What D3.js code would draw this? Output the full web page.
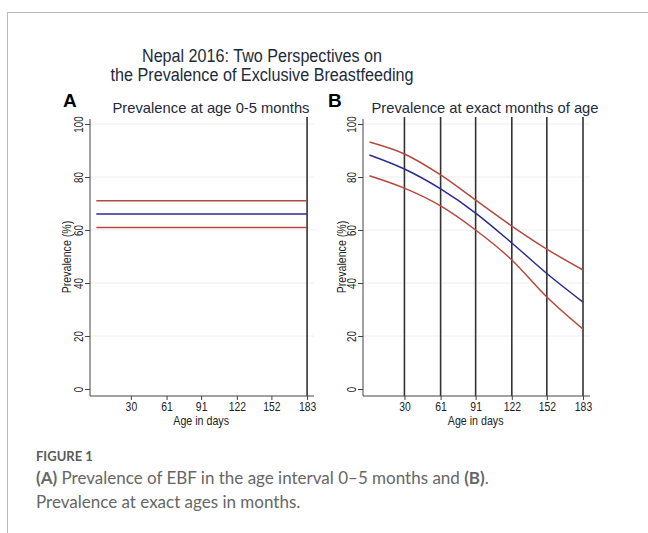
<!DOCTYPE html>
<meta charset="utf-8">
<style>
  body { margin: 0; background: #fff; }
  svg text { font-family: "Liberation Sans", Arial, sans-serif; }
  .axis path, .axis line { stroke: #444; }
  .cap { font-family: Lato, "Open Sans", sans-serif !important; fill: #666; }
</style>
<body>
<div id="chart"></div>
<script src="https://cdnjs.cloudflare.com/ajax/libs/d3/7.8.5/d3.min.js"></script>
<script>
  // tick values on the age axis (days)
  var dayTicks = [30, 61, 91, 122, 152, 183];
  var yTicks = [0, 20, 40, 60, 80, 100];

  // panel A: prevalence over 0-5 months (flat estimate + CI)
  var intervalDays = [0, 183];
  var intervalEst = 66.0, intervalLo = 60.9, intervalHi = 71.0;

  // panel B: prevalence at exact ages
  var exactDays = [0, 30, 61, 91, 122, 152, 183];
  var exactEst = [88.3, 83.0, 75.5, 66.4, 55.1, 43.6, 32.8];
  var exactHi  = [93.2, 88.7, 80.8, 71.3, 61.5, 52.8, 44.9];
  var exactLo  = [80.5, 75.8, 69.1, 60.0, 48.7, 34.7, 22.6];

  var W = 648, H = 533;
  var red = "#b5483f", blue = "#2a2a8f";

  // the stata text in the figure is narrow, so squeeze glyphs horizontally
  function squeeze(sel, f) {
    sel.each(function () {
      var L = this.getComputedTextLength();
      d3.select(this).attr("textLength", L * f).attr("lengthAdjust", "spacingAndGlyphs");
    });
  }

  var svg = d3.select("#chart").append("svg")
    .attr("width", W).attr("height", H);

  // figure frame
  svg.append("line").attr("x1", 8).attr("x2", W).attr("y1", 12.5).attr("y2", 12.5)
    .style("stroke", "#bbb").style("stroke-width", 1);
  svg.append("line").attr("x1", 7.5).attr("x2", 7.5).attr("y1", 12).attr("y2", H)
    .style("stroke", "#bbb").style("stroke-width", 1);

  // title
  svg.append("text").attr("x", 262).attr("y", 62).attr("text-anchor", "middle")
    .attr("textLength", 240).attr("lengthAdjust", "spacingAndGlyphs")
    .style("font-size", "18px").style("fill", "#1e2a3a")
    .text("Nepal 2016: Two Perspectives on");
  svg.append("text").attr("x", 262).attr("y", 81).attr("text-anchor", "middle")
    .attr("textLength", 303).attr("lengthAdjust", "spacingAndGlyphs")
    .style("font-size", "18px").style("fill", "#1e2a3a")
    .text("the Prevalence of Exclusive Breastfeeding");

  var y = d3.scaleLinear().domain([0, 100]).range([389, 124]);

  function panel(opts) {
    var x = d3.scaleLinear().domain([-5.5, 189]).range([opts.left, opts.right]);
    var g = svg.append("g");

    g.append("text").attr("x", opts.letterX).attr("y", 107)
      .style("font-size", "19px").style("font-weight", "bold").text(opts.letter);
    g.append("text").attr("x", opts.subX).attr("y", 113).attr("text-anchor", "middle")
      .attr("textLength", opts.subW).attr("lengthAdjust", "spacingAndGlyphs")
      .style("font-size", "15px").style("fill", "#1e2a3a").text(opts.sub);

    // grid
    g.selectAll(".grid").data(yTicks.filter(function (d) { return d > 0; })).enter()
      .append("line")
      .attr("x1", opts.left).attr("x2", opts.right)
      .attr("y1", function (d) { return y(d); }).attr("y2", function (d) { return y(d); })
      .style("stroke", "#eee").style("stroke-width", 1);

    // vertical reference lines
    g.selectAll(".vline").data(opts.vlines).enter()
      .append("line")
      .attr("x1", function (d) { return x(d); }).attr("x2", function (d) { return x(d); })
      .attr("y1", 117).attr("y2", 396)
      .style("stroke", "#333").style("stroke-width", 1.6);

    var yAxis = g.append("g").attr("class", "axis")
      .attr("transform", "translate(" + opts.left + ",0)")
      .call(d3.axisLeft(y).tickValues(yTicks).tickSize(5).tickPadding(3));
    yAxis.select(".domain").attr("d", "M0,396V119");
    yAxis.selectAll(".tick text")
      .attr("transform", "rotate(-90)").attr("x", 0).attr("y", -7)
      .attr("dy", 0).attr("text-anchor", "middle")
      .style("font-size", "13px").style("fill", "#222").style("font-family", "Liberation Sans, Arial")
      .call(squeeze, 0.75);

    var xAxis = g.append("g").attr("class", "axis")
      .attr("transform", "translate(0,396)")
      .call(d3.axisBottom(x).tickValues(dayTicks).tickSize(4).tickPadding(2));
    xAxis.select(".domain").attr("d", "M" + opts.left + ",0H" + opts.right);
    xAxis.selectAll(".tick text").style("font-size", "13px").style("fill", "#222")
      .style("font-family", "Liberation Sans, Arial")
      .call(squeeze, 0.8);

    g.append("text").attr("x", x(91)).attr("y", 425).attr("text-anchor", "middle")
      .style("font-size", "13px").style("fill", "#222").text("Age in days")
      .call(squeeze, 0.82);

    g.append("text").attr("transform", "translate(" + opts.labX + ",257) rotate(-90)")
      .attr("text-anchor", "middle")
      .style("font-size", "12.5px").style("fill", "#222").text("Prevalence (%)")
      .call(squeeze, 0.85);

    var line = d3.line()
      .x(function (d) { return x(d[0]); })
      .y(function (d) { return y(d[1]); })
      .curve(d3.curveMonotoneX);

    opts.series.forEach(function (s) {
      g.append("path").datum(d3.zip(opts.days, s.values))
        .attr("d", line).attr("fill", "none")
        .style("stroke", s.color).style("stroke-width", 1.5);
    });
  }

  panel({
    left: 90, right: 314, letter: "A", letterX: 63, sub: "Prevalence at age 0-5 months", subX: 211, subW: 197,
    labX: 71, vlines: [183], days: intervalDays,
    series: [
      { values: [intervalHi, intervalHi], color: red },
      { values: [intervalEst, intervalEst], color: blue },
      { values: [intervalLo, intervalLo], color: red }
    ]
  });

  panel({
    left: 363, right: 590, letter: "B", letterX: 328, sub: "Prevalence at exact months of age", subX: 485, subW: 227,
    labX: 346, vlines: dayTicks, days: exactDays,
    series: [
      { values: exactHi, color: red },
      { values: exactEst, color: blue },
      { values: exactLo, color: red }
    ]
  });

  // caption
  svg.append("text").attr("class", "cap").attr("x", 36).attr("y", 461)
    .style("font-size", "13px").style("font-weight", "bold").style("fill", "#5a5a5a").text("FIGURE 1");
  var c1 = svg.append("text").attr("class", "cap").attr("x", 36).attr("y", 484)
    .style("font-size", "17px");
  c1.append("tspan").style("font-weight", "bold").text("(A)");
  c1.append("tspan").text(" Prevalence of EBF in the age interval 0\u20135 months and ");
  c1.append("tspan").style("font-weight", "bold").text("(B)");
  c1.append("tspan").text(".");
  svg.append("text").attr("class", "cap").attr("x", 36).attr("y", 508)
    .style("font-size", "17px")
    .text("Prevalence at exact ages in months.");
</script>
</body>
